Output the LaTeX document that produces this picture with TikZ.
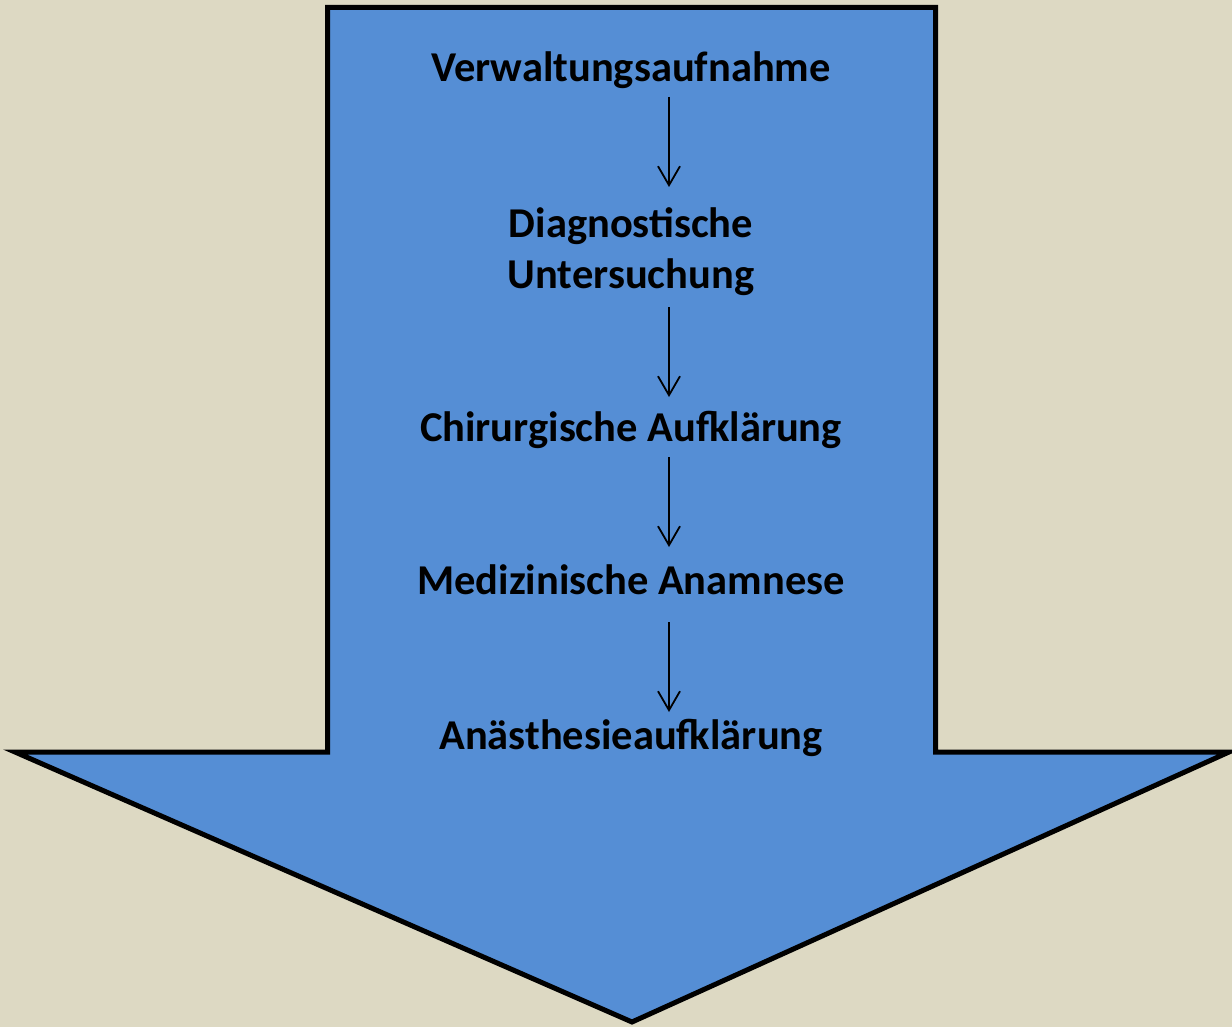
\documentclass[tikz,border=0pt]{standalone}
\usepackage{fontspec}
\setmainfont{Carlito}
\usetikzlibrary{arrows.meta,calc}
\definecolor{bgtan}{HTML}{DDD9C3}
\definecolor{arrowblue}{HTML}{558ED5}
\tikzset{
  steplabel/.style={font=\bfseries\fontsize{42.5}{51}\selectfont, text=black, align=center, inner sep=0pt, anchor=base},
  flowarrow/.style={draw=black, line width=1.8pt, -{Straight Barb[length=19pt,width=22pt,line width=1.8pt]}},
  bigarrow/.style={draw=black, fill=arrowblue, line width=5pt, miter limit=20, line join=miter}
}
\begin{document}
\begin{tikzpicture}[x=1pt,y=-1pt]
\fill[bgtan] (0,0) rectangle (1232,1027);
\useasboundingbox (0,0) rectangle (1232,1027);
\draw[bigarrow] (327.5,7.5) -- (935.5,7.5) -- (935.5,752) -- (1229,752) -- (632,1022) -- (15,752) -- (327.5,752) -- cycle;
\node[steplabel] (s1) at (631,82) {Verwaltungsaufnahme};
\node[steplabel] (s2) at (631,288) {Diagnostische\\Untersuchung};
\node[steplabel] (s3) at (631,441) {Chirurgische Aufklärung};
\node[steplabel] (s4) at (631,594) {Medizinische Anamnese};
\node[steplabel] (s5) at (631,749) {Anästhesieaufklärung};
\coordinate (ax) at (669,0);
\draw[flowarrow] ($(s1.base -| ax)+(0,15)$) -- ($(s2.base -| ax)+(0,-101)$);
\draw[flowarrow] ($(s2.base -| ax)+(0,19)$) -- ($(s3.base -| ax)+(0,-44)$);
\draw[flowarrow] ($(s3.base -| ax)+(0,16)$) -- ($(s4.base -| ax)+(0,-47)$);
\draw[flowarrow] ($(s4.base -| ax)+(0,28)$) -- ($(s5.base -| ax)+(0,-37)$);
\end{tikzpicture}
\end{document}
